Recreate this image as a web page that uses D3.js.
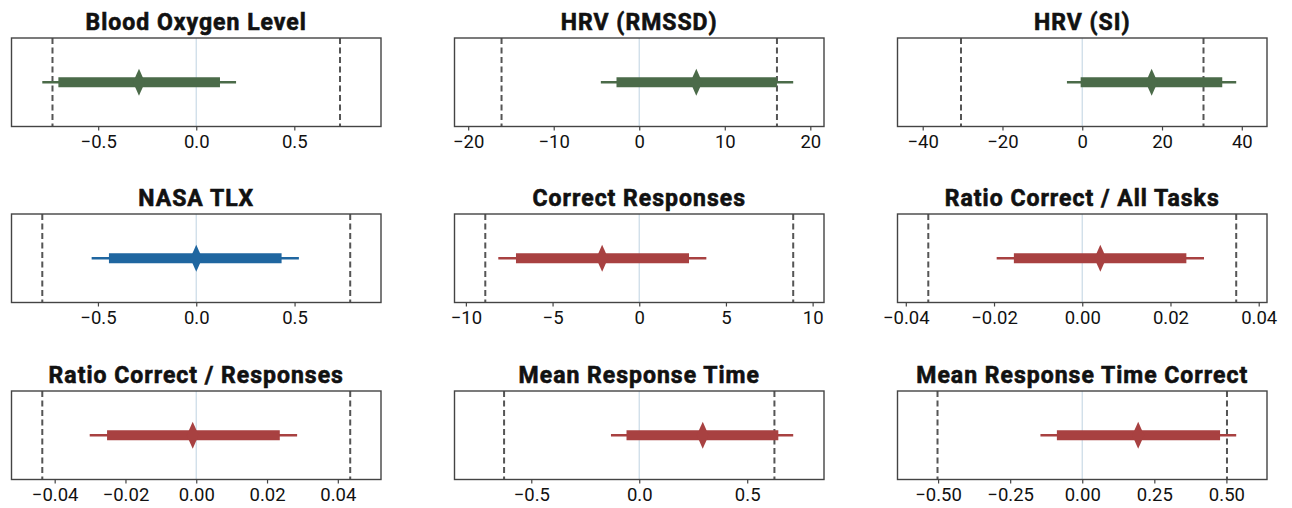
<!DOCTYPE html>
<html>
<head>
<meta charset="utf-8">
<script src="https://cdn.jsdelivr.net/npm/d3@7"></script>
<style>
  body { margin: 0; background: #fff; }
  text { font-family: Roboto, "Liberation Sans", sans-serif; }
</style>
</head>
<body>
<svg id="svg" width="1292" height="508"></svg>
<script>
var titles = ["Blood Oxygen Level", "HRV (RMSSD)", "HRV (SI)",
              "NASA TLX", "Correct Responses", "Ratio Correct / All Tasks",
              "Ratio Correct / Responses", "Mean Response Time", "Mean Response Time Correct"];
var groups = ["physio", "physio", "physio", "survey", "task", "task", "task", "task", "task"];

// posterior estimate, thick (inner) interval, thin (outer) interval, rope half-width
var estimate  = [-0.292, 6.67, 17.4, 0.0, -2.14, 0.0041, -0.001, 0.294, 0.194];
var innerLow  = [-0.703, -2.66, -0.4, -0.444, -7.11, -0.0155, -0.0252, -0.059, -0.088];
var innerHigh = [0.121, 16.1, 35.1, 0.434, 2.87, 0.0236, 0.0236, 0.644, 0.478];
var outerLow  = [-0.785, -4.49, -3.84, -0.532, -8.13, -0.0194, -0.0301, -0.131, -0.145];
var outerHigh = [0.203, 18.0, 38.6, 0.522, 3.87, 0.0276, 0.0285, 0.713, 0.534];
var rope      = [0.733, 16.1, 30.4, 0.783, 8.88, 0.0349, 0.0435, 0.626, 0.502];

var tickValues = [
  [-0.5, 0, 0.5], [-20, -10, 0, 10, 20], [-40, -20, 0, 20, 40],
  [-0.5, 0, 0.5], [-10, -5, 0, 5, 10], [-0.04, -0.02, 0, 0.02, 0.04],
  [-0.04, -0.02, 0, 0.02, 0.04], [-0.5, 0, 0.5], [-0.5, -0.25, 0, 0.25, 0.5]
];
var tickLabels = [
  ["−0.5", "0.0", "0.5"], ["−20", "−10", "0", "10", "20"], ["−40", "−20", "0", "20", "40"],
  ["−0.5", "0.0", "0.5"], ["−10", "−5", "0", "5", "10"], ["−0.04", "−0.02", "0.00", "0.02", "0.04"],
  ["−0.04", "−0.02", "0.00", "0.02", "0.04"], ["−0.5", "0.0", "0.5"], ["−0.50", "−0.25", "0.00", "0.25", "0.50"]
];

var colors = { physio: "#4b6b49", survey: "#1f66a0", task: "#a84141" };

var colX = [11.5, 454.5, 897.5];
var rowY = [38, 214, 391];
var boxW = 369.5, boxH = 88.5;

var svg = d3.select("svg");

titles.forEach(function(title, i) {
  var col = i % 3, row = Math.floor(i / 3);
  var g = svg.append("g")
    .attr("transform", "translate(" + colX[col] + "," + rowY[row] + ")");

  var lim = Math.max(rope[i], Math.abs(outerLow[i]), Math.abs(outerHigh[i])) * 1.2;
  var x = d3.scaleLinear().domain([-lim, lim]).range([0, boxW]);
  var cy = boxH / 2;
  var c = colors[groups[i]];

  // zero line
  g.append("line")
    .attr("x1", x(0)).attr("x2", x(0))
    .attr("y1", 0).attr("y2", boxH)
    .attr("stroke", "#cddde8").attr("stroke-width", 1.3);

  // rope lines
  g.selectAll(".rope").data([-rope[i], rope[i]]).enter()
    .append("line")
    .attr("x1", function(d) { return x(d); })
    .attr("x2", function(d) { return x(d); })
    .attr("y1", 0).attr("y2", boxH)
    .attr("stroke", "#555").attr("stroke-width", 2)
    .attr("stroke-dasharray", "6,3.5");

  // outer interval
  g.append("line")
    .attr("x1", x(outerLow[i])).attr("x2", x(outerHigh[i]))
    .attr("y1", cy).attr("y2", cy)
    .attr("stroke", c).attr("stroke-width", 2.4);

  // inner interval
  g.append("rect")
    .attr("x", x(innerLow[i]))
    .attr("width", x(innerHigh[i]) - x(innerLow[i]))
    .attr("y", cy - 5).attr("height", 10)
    .attr("fill", c);

  // estimate diamond
  var ex = x(estimate[i]);
  g.append("path")
    .attr("d", "M" + ex + "," + (cy - 13.5) + "L" + (ex + 6) + "," + cy +
               "L" + ex + "," + (cy + 13.5) + "L" + (ex - 6) + "," + cy + "Z")
    .attr("fill", c);

  // frame
  g.append("rect")
    .attr("x", 0).attr("y", 0)
    .attr("width", boxW).attr("height", boxH)
    .attr("fill", "none").attr("stroke", "#444").attr("stroke-width", 1.4);

  // axis
  var axis = d3.axisBottom(x)
    .tickValues(tickValues[i])
    .tickSize(4)
    .tickPadding(4)
    .tickFormat(function(d, k) { return tickLabels[i][k]; });
  var ax = g.append("g").attr("transform", "translate(0," + boxH + ")").call(axis);
  ax.select(".domain").remove();
  ax.selectAll(".tick line").attr("stroke", "#444").attr("stroke-width", 1.2);
  ax.selectAll(".tick text")
    .attr("fill", "#111")
    .style("font-size", "18.5px")
    .style("font-family", "Roboto, sans-serif");

  // title
  g.append("text")
    .attr("x", boxW / 2).attr("y", -8.5)
    .attr("text-anchor", "middle")
    .style("font-size", "23px")
    .style("font-weight", "bold")
    .style("letter-spacing", "1px")
    .attr("fill", "#111")
    .attr("stroke", "#111")
    .attr("stroke-width", 0.6)
    .text(title);
});
</script>
</body>
</html>
